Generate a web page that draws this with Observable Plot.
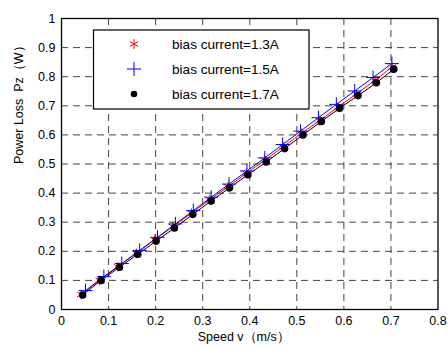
<!DOCTYPE html>
<html>
<head>
<meta charset="utf-8">
<script src="https://cdn.jsdelivr.net/npm/d3@7"></script>
<script src="https://cdn.jsdelivr.net/npm/@observablehq/plot@0.6"></script>
<style>
  html, body { margin: 0; padding: 0; background: #fff; }
  #chart { position: relative; width: 448px; height: 347px; }
</style>
</head>
<body>
<div id="chart"></div>
<script>
const xTicks = [0, 0.1, 0.2, 0.3, 0.4, 0.5, 0.6, 0.7, 0.8];
const yTicks = [0, 0.1, 0.2, 0.3, 0.4, 0.5, 0.6, 0.7, 0.8, 0.9, 1];
const xGrid = [0.1, 0.2, 0.3, 0.4, 0.5, 0.6, 0.7];
const yGrid = [0.1, 0.2, 0.3, 0.4, 0.5, 0.6, 0.7, 0.8, 0.9];

const seriesNames = ["bias current=1.3A", "bias current=1.5A", "bias current=1.7A"];

const speed13 = [0.042,0.081,0.120,0.159,0.198,0.237,0.276,0.315,0.354,0.393,0.432,0.471,0.510,0.549,0.588,0.627,0.666,0.702];
const loss13  = [0.052,0.100,0.147,0.193,0.240,0.285,0.331,0.377,0.422,0.468,0.513,0.559,0.605,0.650,0.696,0.741,0.787,0.833];

const speed15 = [0.051,0.090,0.128,0.166,0.204,0.242,0.280,0.318,0.356,0.394,0.432,0.470,0.508,0.546,0.584,0.623,0.662,0.702];
const loss15  = [0.065,0.113,0.158,0.203,0.248,0.294,0.340,0.386,0.431,0.476,0.521,0.567,0.613,0.659,0.705,0.751,0.797,0.845];

const speed17 = [0.045,0.084,0.123,0.162,0.201,0.240,0.279,0.318,0.357,0.396,0.435,0.474,0.513,0.552,0.591,0.630,0.669,0.706];
const loss17  = [0.050,0.100,0.145,0.190,0.235,0.280,0.327,0.373,0.418,0.463,0.507,0.553,0.600,0.646,0.692,0.735,0.779,0.826];

const s13 = speed13.map((v, i) => ({x: v, y: loss13[i]}));
const s15 = speed15.map((v, i) => ({x: v, y: loss15[i]}));
const s17 = speed17.map((v, i) => ({x: v, y: loss17[i]}));

const font = "'Liberation Sans', Arial, sans-serif";
const gridStyle = {stroke: "#444", strokeWidth: 1, strokeDasharray: "7,5"};

const chart = Plot.plot({
  width: 448,
  height: 347,
  marginLeft: 61,
  marginRight: 10.5,
  marginTop: 18,
  marginBottom: 38,
  style: {fontFamily: font, fontSize: "12.5px", background: "#fff", color: "#000"},
  x: {domain: [0, 0.8]},
  y: {domain: [0, 1]},
  marks: [
    Plot.ruleX(xGrid, {...gridStyle}),
    Plot.ruleY(yGrid, {...gridStyle}),
    Plot.line(s13, {x: "x", y: "y", stroke: "#ff0000", strokeWidth: 1}),
    Plot.line(s15, {x: "x", y: "y", stroke: "#0000ff", strokeWidth: 1}),
    Plot.line(s17, {x: "x", y: "y", stroke: "#000", strokeWidth: 1}),
    Plot.dot(s13, {x: "x", y: "y", symbol: "asterisk", r: 4.6, stroke: "#ff0000", strokeWidth: 1}),
    Plot.dot(s15, {x: "x", y: "y", symbol: "plus", r: 4.6, stroke: "#0000ff", strokeWidth: 1}),
    Plot.dot(s17, {x: "x", y: "y", r: 3.8, fill: "#000", stroke: "none"}),
    Plot.frame({stroke: "#000", strokeWidth: 1.3}),
    Plot.axisX({ticks: xTicks, tickSize: 0, tickPadding: 7, tickFormat: d => String(d), label: null}),
    Plot.axisY({ticks: yTicks, tickSize: 0, tickPadding: 6, tickFormat: d => String(d), label: null}),
    Plot.text(["Speed v（m/s）"], {frameAnchor: "bottom", dy: 31, dx: -6, fontSize: 12.5, fill: "#000"}),
    Plot.text(["Power Loss  Pz（W）"], {frameAnchor: "left", dx: -43, rotate: -90, fontSize: 12.5, fill: "#000"})
  ]
});

document.getElementById("chart").appendChild(chart);

// Legend box drawn inside the plot's SVG
const svg = d3.select(chart);
const lg = svg.append("g").attr("font-family", font).attr("font-size", 13.6).attr("text-anchor", "start");
lg.append("rect").attr("x", 93.5).attr("y", 30).attr("width", 215.5).attr("height", 79)
  .attr("fill", "#fff").attr("stroke", "#000").attr("stroke-width", 1.2);
const rows = [44, 69, 94];
const symbols = [d3.symbolAsterisk, d3.symbolPlus, d3.symbolCircle];
const sizes = [Math.PI * 4.6 * 4.6, Math.PI * 4.6 * 4.6, Math.PI * 3.3 * 3.3];
const colors = ["#ff0000", "#0000ff", "#000"];
rows.forEach((yy, i) => {
  const p = lg.append("path").attr("transform", `translate(134,${yy})`)
    .attr("d", d3.symbol(symbols[i], sizes[i])());
  if (i < 2) p.attr("fill", "none").attr("stroke", colors[i]).attr("stroke-width", 1);
  else p.attr("fill", "#000");
  lg.append("text").attr("x", 172).attr("y", yy).attr("dy", "0.35em")
    .attr("text-anchor", "start").attr("fill", "#000").text(seriesNames[i]);
});
</script>
</body>
</html>
